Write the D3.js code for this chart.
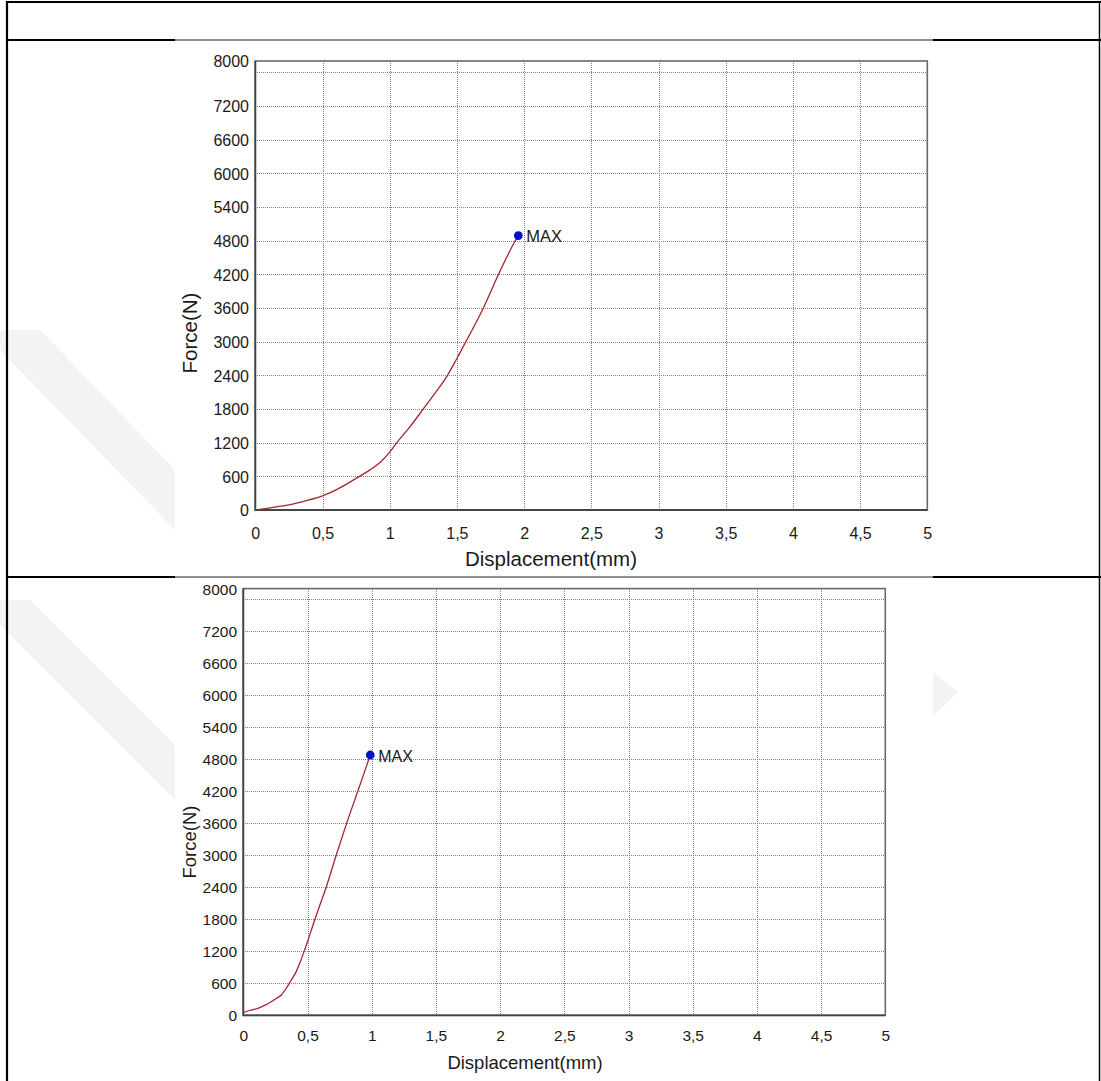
<!DOCTYPE html>
<html>
<head>
<meta charset="utf-8">
<script src="https://cdn.jsdelivr.net/npm/d3@7/dist/d3.min.js"></script>
<style>
  html, body { margin: 0; padding: 0; background: #fff; }
  svg { display: block; }
  text { font-family: "Liberation Sans", Arial, sans-serif; fill: #1a1a1a; }
</style>
</head>
<body>
<svg id="page" width="1101" height="1081"></svg>
<script>
// ---------- DATA ----------
const xTickValues = [0, 0.5, 1, 1.5, 2, 2.5, 3, 3.5, 4, 4.5, 5];
const xTickLabels = ["0", "0,5", "1", "1,5", "2", "2,5", "3", "3,5", "4", "4,5", "5"];
const yTickValues = [0, 600, 1200, 1800, 2400, 3000, 3600, 4200, 4800, 5400, 6000, 6600, 7200, 8000];
const yGridValues = [600, 1200, 1800, 2400, 3000, 3600, 4200, 4800, 5400, 6000, 6600, 7200, 7800];
const xGridValues = [0.5, 1, 1.5, 2, 2.5, 3, 3.5, 4, 4.5];

// Specimen 1 (top)
const disp1  = [0, 0.1, 0.25, 0.4, 0.5, 0.55, 0.65, 0.75, 0.85, 0.93, 1.0, 1.05, 1.15, 1.25, 1.34, 1.43, 1.5, 1.567, 1.697, 1.81, 1.93, 1.957];
const force1 = [0, 35, 90, 180, 250, 300, 420, 564, 710, 850, 1030, 1190, 1480, 1800, 2090, 2400, 2700, 3000, 3600, 4200, 4780, 4890];
const max1 = { x: 1.957, y: 4890, label: "MAX" };

// Specimen 2 (bottom)
const disp2  = [0, 0.05, 0.114, 0.17, 0.218, 0.26, 0.296, 0.335, 0.374, 0.41, 0.439, 0.491, 0.556, 0.6, 0.647, 0.724, 0.802, 0.88, 0.958, 0.989];
const force2 = [50, 90, 131, 190, 255, 320, 381, 510, 662, 810, 975, 1318, 1787, 2090, 2411, 3006, 3580, 4120, 4662, 4880];
const max2 = { x: 0.989, y: 4880, label: "MAX" };

const xAxisTitle = "Displacement(mm)";
const yAxisTitle = "Force(N)";

// ---------- PAGE / TABLE ----------
const svg = d3.select("#page");

// faint watermark shapes
const wm = svg.append("g").attr("fill", "#f3f3f3");
wm.append("polygon").attr("points", "0,330 40,330 175,470 175,530 0,350");
wm.append("polygon").attr("points", "0,600 30,600 175,745 175,800 0,625");
wm.append("polygon").attr("points", "933,672 958,692 933,716");

function drawChart(cfg) {
  const g = svg.append("g");
  g.append("rect").attr("x", cfg.img[0]).attr("y", cfg.img[1])
    .attr("width", cfg.img[2]).attr("height", cfg.img[3]).attr("fill", "#fff");

  const x = d3.scaleLinear().domain([0, 5]).range([cfg.left, cfg.right]);
  const y = d3.scaleLinear().domain([0, 8000]).range([cfg.bottom, cfg.top]);

  // grid
  const grid = g.append("g").attr("stroke", "#808080").attr("stroke-width", 1)
    .attr("stroke-dasharray", "1,1").attr("shape-rendering", "crispEdges");
  grid.selectAll("line.h").data(yGridValues).join("line").attr("class", "h")
    .attr("x1", cfg.left).attr("x2", cfg.right)
    .attr("y1", d => Math.round(y(d)) + 0.5).attr("y2", d => Math.round(y(d)) + 0.5);
  grid.selectAll("line.v").data(xGridValues).join("line").attr("class", "v")
    .attr("y1", cfg.top).attr("y2", cfg.bottom)
    .attr("x1", d => Math.round(x(d)) + 0.5).attr("x2", d => Math.round(x(d)) + 0.5);

  // frame
  g.append("rect").attr("x", cfg.left).attr("y", cfg.top)
    .attr("width", cfg.right - cfg.left).attr("height", cfg.bottom - cfg.top)
    .attr("fill", "none").attr("stroke", "#6a6a6a").attr("stroke-width", 1.6);
  g.append("path")
    .attr("d", `M${cfg.left},${cfg.top}V${cfg.bottom}H${cfg.right}`)
    .attr("fill", "none").attr("stroke", "#444").attr("stroke-width", 1.8);

  // axes (labels only)
  const xAxis = d3.axisBottom(x).tickValues(xTickValues)
    .tickFormat((d, i) => xTickLabels[i]).tickSize(0).tickPadding(0);
  const xa = g.append("g").attr("transform", `translate(0,${cfg.xLabelBase})`).call(xAxis);
  xa.select(".domain").remove();
  xa.selectAll("text").attr("dy", 0).attr("y", 0)
    .style("font-size", cfg.tickFont + "px").style("font-family", "Liberation Sans, Arial, sans-serif").attr("fill", "#1a1a1a");

  const yAxis = d3.axisLeft(y).tickValues(yTickValues).tickFormat(d3.format("d"))
    .tickSize(0).tickPadding(0);
  const ya = g.append("g").attr("transform", `translate(${cfg.yLabelRight},0)`).call(yAxis);
  ya.select(".domain").remove();
  ya.selectAll("text").attr("x", 0).attr("dy", "0.36em")
    .style("font-size", cfg.tickFont + "px").style("font-family", "Liberation Sans, Arial, sans-serif").attr("fill", "#1a1a1a");

  // titles
  g.append("text").attr("x", cfg.xTitle[0]).attr("y", cfg.xTitle[1])
    .attr("text-anchor", "middle").style("font-size", cfg.titleFont + "px").text(xAxisTitle);
  g.append("text").attr("transform", `translate(${cfg.yTitle[0]},${cfg.yTitle[1]}) rotate(-90)`)
    .attr("text-anchor", "middle").style("font-size", cfg.titleFont + "px").text(yAxisTitle);

  // curve
  const pts = cfg.xs.map((d, i) => [d, cfg.ys[i]]);
  g.append("path").datum(pts)
    .attr("d", d3.line().x(d => x(d[0])).y(d => y(d[1])).curve(d3.curveMonotoneX))
    .attr("fill", "none").attr("stroke", "#a3262e").attr("stroke-width", 1.3);

  // max marker
  g.append("circle").attr("cx", x(cfg.max.x)).attr("cy", y(cfg.max.y)).attr("r", 4.4)
    .attr("fill", "#0010c8");
  g.append("text").attr("x", x(cfg.max.x) + 8).attr("y", y(cfg.max.y) + 6.5)
    .style("font-size", cfg.maxFont + "px").text(cfg.max.label);
}

drawChart({
  img: [175, 41, 758, 536],
  left: 255.3, right: 927.3, top: 61, bottom: 510,
  xs: disp1, ys: force1, max: max1,
  tickFont: 16, titleFont: 20.5, maxFont: 16.5,
  xLabelBase: 538.5, yLabelRight: 249,
  xTitle: [551, 566], yTitle: [197, 333]
});

drawChart({
  img: [175, 578, 758, 503],
  left: 243.3, right: 885.3, top: 588.6, bottom: 1015.3,
  xs: disp2, ys: force2, max: max2,
  tickFont: 15.5, titleFont: 18.5, maxFont: 16,
  xLabelBase: 1040.5, yLabelRight: 237,
  xTitle: [525, 1069], yTitle: [196, 842]
});

// table borders
const b = svg.append("g").attr("stroke", "#000");
b.append("line").attr("x1", 6).attr("x2", 1101).attr("y1", 2).attr("y2", 2).attr("stroke-width", 2.2);
b.append("line").attr("x1", 7).attr("x2", 7).attr("y1", 1).attr("y2", 1081).attr("stroke-width", 2.2);
b.append("line").attr("x1", 1099.5).attr("x2", 1099.5).attr("y1", 1).attr("y2", 1081).attr("stroke-width", 1.5);
b.append("line").attr("x1", 6).attr("x2", 175).attr("y1", 40).attr("y2", 40).attr("stroke-width", 2.2);
b.append("line").attr("x1", 175).attr("x2", 933).attr("y1", 40).attr("y2", 40).attr("stroke-width", 1).attr("stroke", "#222");
b.append("line").attr("x1", 933).attr("x2", 1101).attr("y1", 40).attr("y2", 40).attr("stroke-width", 2.2);
b.append("line").attr("x1", 6).attr("x2", 175).attr("y1", 577).attr("y2", 577).attr("stroke-width", 2.2);
b.append("line").attr("x1", 175).attr("x2", 933).attr("y1", 577).attr("y2", 577).attr("stroke-width", 1).attr("stroke", "#222");
b.append("line").attr("x1", 933).attr("x2", 1101).attr("y1", 577).attr("y2", 577).attr("stroke-width", 2.2);
</script>
</body>
</html>
